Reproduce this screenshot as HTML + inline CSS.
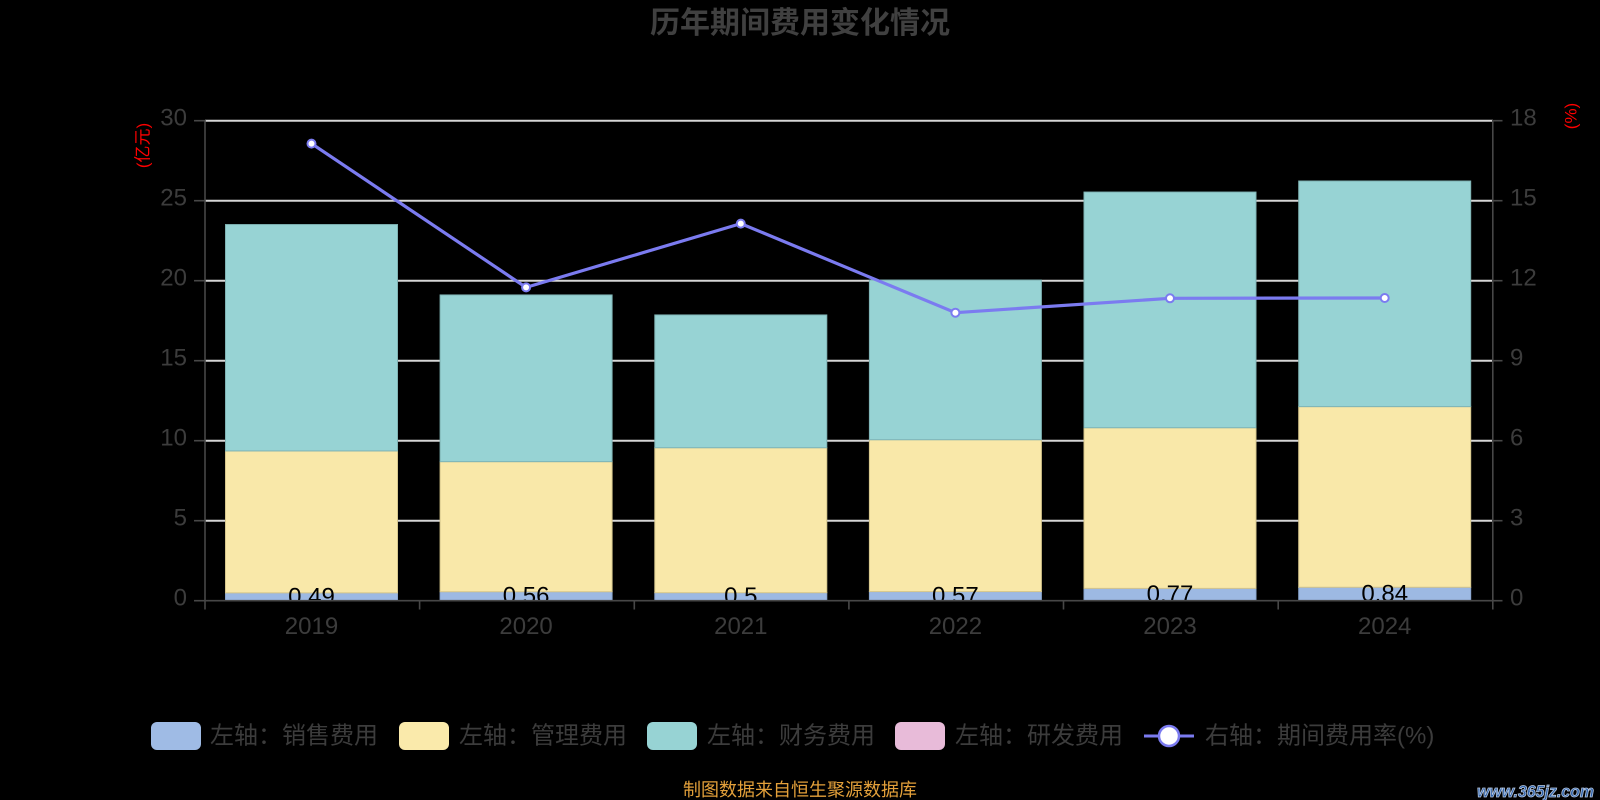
<!DOCTYPE html>
<html>
<head>
<meta charset="utf-8">
<style>
  html,body{margin:0;padding:0;background:#000;}
  svg{display:block;}
  text{font-family:"Liberation Sans","Noto Sans CJK SC",sans-serif;}
</style>
</head>
<body>
<svg width="1600" height="800" viewBox="0 0 1600 800" xmlns="http://www.w3.org/2000/svg">
  <defs>
    <clipPath id="plot"><rect x="205" y="100" width="1288" height="500.7"/></clipPath>
  </defs>
  <rect x="0" y="0" width="1600" height="800" fill="#000"/>

  <!-- Title -->
  <text x="800" y="33" text-anchor="middle" font-size="30" font-weight="bold" fill="#404040" style="font-family:'Noto Sans CJK SC',sans-serif;">历年期间费用变化情况</text>

  <!-- gridlines -->
  <g stroke="#d6d6d6" stroke-width="2">
    <line x1="205" y1="120.7" x2="1493" y2="120.7"/>
    <line x1="205" y1="200.7" x2="1493" y2="200.7"/>
    <line x1="205" y1="280.7" x2="1493" y2="280.7"/>
    <line x1="205" y1="360.7" x2="1493" y2="360.7"/>
    <line x1="205" y1="440.7" x2="1493" y2="440.7"/>
    <line x1="205" y1="520.7" x2="1493" y2="520.7"/>
  </g>

  <!-- Bars -->
  <g stroke-width="1">
    <!-- sales -->
    <g fill="#9db9e3" stroke="#8aa6cf">
      <rect x="225.5" y="592.86" width="172" height="7.84"/>
      <rect x="440.1" y="591.74" width="172" height="8.96"/>
      <rect x="654.8" y="592.7" width="172" height="8"/>
      <rect x="869.4" y="591.58" width="172" height="9.12"/>
      <rect x="1084" y="588.38" width="172" height="12.32"/>
      <rect x="1298.7" y="587.26" width="172" height="13.44"/>
    </g>
    <!-- management -->
    <g fill="#f9e8a9" stroke="#d6c68c">
      <rect x="225.5" y="450.94" width="172" height="141.92"/>
      <rect x="440.1" y="461.66" width="172" height="130.08"/>
      <rect x="654.8" y="447.74" width="172" height="144.96"/>
      <rect x="869.4" y="439.74" width="172" height="151.84"/>
      <rect x="1084" y="427.74" width="172" height="160.64"/>
      <rect x="1298.7" y="406.62" width="172" height="180.64"/>
    </g>
    <!-- finance -->
    <g fill="#97d3d4" stroke="#7fb3b4">
      <rect x="225.5" y="224.54" width="172" height="226.4"/>
      <rect x="440.1" y="294.94" width="172" height="166.72"/>
      <rect x="654.8" y="314.94" width="172" height="132.8"/>
      <rect x="869.4" y="280.06" width="172" height="159.68"/>
      <rect x="1084" y="192.06" width="172" height="235.68"/>
      <rect x="1298.7" y="181.02" width="172" height="225.6"/>
    </g>
  </g>

  <!-- sales labels clipped -->
  <g clip-path="url(#plot)" font-size="24" fill="#000" text-anchor="middle" dominant-baseline="central">
    <text x="311.5" y="596.8">0.49</text>
    <text x="526.1" y="596.2">0.56</text>
    <text x="740.8" y="596.7">0.5</text>
    <text x="955.4" y="596.1">0.57</text>
    <text x="1170" y="594.5">0.77</text>
    <text x="1384.7" y="594">0.84</text>
  </g>

  <!-- Axes -->
  <g stroke="#474747" stroke-width="1.6">
    <line x1="205" y1="120" x2="205" y2="601.5"/>
    <line x1="1492.8" y1="120" x2="1492.8" y2="601.5"/>
    <line x1="204" y1="600.7" x2="1494" y2="600.7"/>
    <!-- left ticks -->
    <line x1="194" y1="120.7" x2="205" y2="120.7"/>
    <line x1="194" y1="200.7" x2="205" y2="200.7"/>
    <line x1="194" y1="280.7" x2="205" y2="280.7"/>
    <line x1="194" y1="360.7" x2="205" y2="360.7"/>
    <line x1="194" y1="440.7" x2="205" y2="440.7"/>
    <line x1="194" y1="520.7" x2="205" y2="520.7"/>
    <line x1="194" y1="600.7" x2="205" y2="600.7"/>
    <!-- right ticks -->
    <line x1="1492.8" y1="120.7" x2="1502.5" y2="120.7"/>
    <line x1="1492.8" y1="200.7" x2="1502.5" y2="200.7"/>
    <line x1="1492.8" y1="280.7" x2="1502.5" y2="280.7"/>
    <line x1="1492.8" y1="360.7" x2="1502.5" y2="360.7"/>
    <line x1="1492.8" y1="440.7" x2="1502.5" y2="440.7"/>
    <line x1="1492.8" y1="520.7" x2="1502.5" y2="520.7"/>
    <line x1="1492.8" y1="600.7" x2="1502.5" y2="600.7"/>
    <!-- x ticks -->
    <line x1="205" y1="600.7" x2="205" y2="609.5"/>
    <line x1="419.6" y1="600.7" x2="419.6" y2="609.5"/>
    <line x1="634.3" y1="600.7" x2="634.3" y2="609.5"/>
    <line x1="848.9" y1="600.7" x2="848.9" y2="609.5"/>
    <line x1="1063.5" y1="600.7" x2="1063.5" y2="609.5"/>
    <line x1="1278.2" y1="600.7" x2="1278.2" y2="609.5"/>
    <line x1="1492.8" y1="600.7" x2="1492.8" y2="609.5"/>
  </g>

  <!-- Left axis labels -->
  <g font-size="24" fill="#3c3c3c" text-anchor="end" dominant-baseline="central">
    <text x="187" y="118">30</text>
    <text x="187" y="198">25</text>
    <text x="187" y="278">20</text>
    <text x="187" y="358">15</text>
    <text x="187" y="438">10</text>
    <text x="187" y="518">5</text>
    <text x="187" y="598">0</text>
  </g>
  <!-- Right axis labels -->
  <g font-size="24" fill="#3c3c3c" text-anchor="start" dominant-baseline="central">
    <text x="1510" y="118">18</text>
    <text x="1510" y="198">15</text>
    <text x="1510" y="278">12</text>
    <text x="1510" y="358">9</text>
    <text x="1510" y="438">6</text>
    <text x="1510" y="518">3</text>
    <text x="1510" y="598">0</text>
  </g>
  <!-- X labels -->
  <g font-size="24" fill="#3c3c3c" text-anchor="middle">
    <text x="311.5" y="634">2019</text>
    <text x="526.1" y="634">2020</text>
    <text x="740.8" y="634">2021</text>
    <text x="955.4" y="634">2022</text>
    <text x="1170" y="634">2023</text>
    <text x="1384.7" y="634">2024</text>
  </g>

  <!-- Axis names -->
  <text transform="translate(143,145.5) rotate(-90)" font-size="17" fill="#ff0000" text-anchor="middle" dominant-baseline="central">(亿元)</text>
  <text transform="translate(1571,116) rotate(-90)" font-size="17" fill="#ff0000" text-anchor="middle" dominant-baseline="central">(%)</text>

  <!-- Line -->
  <polyline points="311.5,143.6 526.1,287.4 740.8,223.6 955.4,312.7 1170,298.3 1384.7,298" fill="none" stroke="#7b7bf0" stroke-width="3.2" stroke-linejoin="round"/>
  <g fill="#fff" stroke="#7b7bf0" stroke-width="2">
    <circle cx="311.5" cy="143.6" r="4"/>
    <circle cx="526.1" cy="287.4" r="4"/>
    <circle cx="740.8" cy="223.6" r="4"/>
    <circle cx="955.4" cy="312.7" r="4"/>
    <circle cx="1170" cy="298.3" r="4"/>
    <circle cx="1384.7" cy="298" r="4"/>
  </g>

  <!-- Legend -->
  <g>
    <rect x="151" y="722" width="50" height="28" rx="6" fill="#9fbbe5"/>
    <rect x="399" y="722" width="50" height="28" rx="6" fill="#faeaab"/>
    <rect x="647" y="722" width="50" height="28" rx="6" fill="#97d3d4"/>
    <rect x="895" y="722" width="50" height="28" rx="6" fill="#e8bbd9"/>
    <line x1="1144" y1="736" x2="1194" y2="736" stroke="#7b7bf0" stroke-width="3"/>
    <circle cx="1169" cy="736" r="10" fill="#fff" stroke="#7b7bf0" stroke-width="2.5"/>
  </g>
  <g font-size="24" fill="#3c3c3c" dominant-baseline="central">
    <text x="210" y="736">左轴：销售费用</text>
    <text x="459" y="736">左轴：管理费用</text>
    <text x="707" y="736">左轴：财务费用</text>
    <text x="955" y="736">左轴：研发费用</text>
    <text x="1205" y="736">右轴：期间费用率(%)</text>
  </g>

  <!-- Source -->
  <text x="800" y="796" text-anchor="middle" font-size="18" fill="#e3a03a">制图数据来自恒生聚源数据库</text>

  <!-- Watermark -->
  <text x="1477" y="797" font-size="17" font-weight="bold" font-style="italic" fill="#2f62aa" stroke="#b9c9e0" stroke-width="0.8" textLength="117" lengthAdjust="spacingAndGlyphs">www.365jz.com</text>
</svg>
</body>
</html>
